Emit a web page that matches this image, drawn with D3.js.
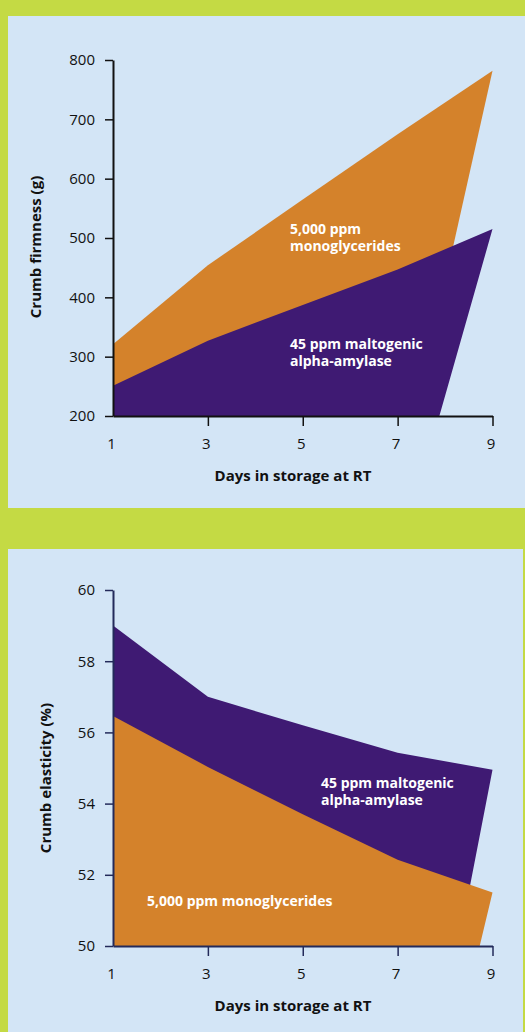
<!DOCTYPE html>
<html>
<head>
<meta charset="utf-8">
<script src="https://cdnjs.cloudflare.com/ajax/libs/d3/7.8.5/d3.min.js"></script>
<style>
  html, body { margin: 0; padding: 0; background: #c4da44; }
  svg { display: block; font-family: "Open Sans", "Noto Sans", sans-serif; }
</style>
</head>
<body>
<div id="chart"></div>
<script>
// days on the x axis
var days = [1, 3, 5, 7, 9];

// crumb firmness (g)
var firmnessMono = [321, 454, 565, 675, 782];
var firmnessAmylase = [251, 327, 387, 447, 515];
var firmnessMonoBaseEnd = 7.37;     // where the slanted right edge meets the x axis
var firmnessAmylaseBaseEnd = 7.88;
var firmnessTicks = [200, 300, 400, 500, 600, 700, 800];

// crumb elasticity (%)
var elasticityAmylase = [59.0, 57.0, 56.2, 55.43, 54.95];
var elasticityMono = [56.46, 55.03, 53.7, 52.42, 51.5];
var elasticityAmylaseBaseEnd = 8.28;
var elasticityMonoBaseEnd = 8.73;
var elasticityTicks = [50, 52, 54, 56, 58, 60];

var dayTicks = [1, 3, 5, 7, 9];

var orange = "#d4822b",
  purple = "#3f1a73",
  panelBlue = "#d3e5f6",
  green = "#c4da44";

var W = 525, H = 1032;

var svg = d3.select("#chart").append("svg")
  .attr("width", W)
  .attr("height", H);

svg.append("rect").attr("width", W).attr("height", H).attr("fill", green);

var drawPanel = function(opts) {
  var g = svg.append("g");

  g.append("rect")
    .attr("x", opts.panel[0]).attr("y", opts.panel[1])
    .attr("width", opts.panel[2]).attr("height", opts.panel[3])
    .attr("fill", panelBlue);

  var x = d3.scaleLinear().domain([1, 9]).range([113, 492.5]);
  var y = d3.scaleLinear().domain(opts.yDomain).range([opts.bottom, opts.top]);

  var line = d3.line();

  // build each layer polygon: top line, slanted edge down to base, back to day 1
  opts.layers.forEach(function(layer) {
    var pts = days.map(function(d, i) { return [x(d), y(layer.values[i])]; });
    pts.push([x(layer.baseEnd), y(opts.yDomain[0])]);
    pts.push([x(1), y(opts.yDomain[0])]);
    g.append("path")
      .attr("d", line(pts) + "Z")
      .attr("fill", layer.color);

    // one text per line so the lines stay apart
    layer.label.lines.forEach(function(s, i) {
      g.append("text")
        .attr("x", layer.label.x)
        .attr("y", layer.label.y + i * 16.5)
        .attr("fill", "#fff")
        .attr("font-weight", "bold")
        .attr("font-size", 14)
        .text(s);
    });
  });

  var yAxis = d3.axisLeft(y)
    .tickValues(opts.yTicks)
    .tickSize(8)
    .tickSizeOuter(0)
    .tickPadding(10);
  var ya = g.append("g")
    .attr("transform", "translate(113,0)")
    .call(yAxis);

  var xAxis = d3.axisBottom(x)
    .tickValues(dayTicks)
    .tickSize(10)
    .tickSizeOuter(0)
    .tickPadding(12);
  var xa = g.append("g")
    .attr("transform", "translate(0," + opts.bottom + ")")
    .call(xAxis);

  [ya, xa].forEach(function(a) {
    a.select(".domain").attr("stroke", opts.axisColor).attr("stroke-width", 2);
    a.selectAll(".tick line").attr("stroke", opts.axisColor).attr("stroke-width", 1.5);
    a.selectAll(".tick text")
      .attr("fill", "#111")
      .attr("font-size", 15)
      .attr("font-family", "Open Sans, sans-serif");
  });
  xa.selectAll(".tick").filter(function(d) { return d === 1; }).select("line").remove();
  xa.selectAll(".tick text").attr("dx", -2);

  g.append("text")
    .attr("x", 293)
    .attr("y", opts.bottom + 65)
    .attr("text-anchor", "middle")
    .attr("font-weight", "bold")
    .attr("font-size", 15)
    .attr("fill", "#111")
    .text("Days in storage at RT");

  g.append("text")
    .attr("transform", "translate(" + opts.yTitle.x + "," + opts.yTitle.y + ") rotate(-90)")
    .attr("text-anchor", "middle")
    .attr("font-weight", "bold")
    .attr("font-size", 15)
    .attr("fill", "#111")
    .text(opts.yTitle.text);
};

drawPanel({
  panel: [8, 16, 517, 492],
  yDomain: [200, 800],
  yTicks: firmnessTicks,
  top: 60,
  bottom: 416,
  axisColor: "#111",
  yTitle: { x: 41, y: 247, text: "Crumb firmness (g)" },
  layers: [
    { values: firmnessMono, baseEnd: firmnessMonoBaseEnd, color: orange,
      label: { x: 290, y: 234, lines: ["5,000 ppm", "monoglycerides"] } },
    { values: firmnessAmylase, baseEnd: firmnessAmylaseBaseEnd, color: purple,
      label: { x: 290, y: 349, lines: ["45 ppm maltogenic", "alpha-amylase"] } }
  ]
});

drawPanel({
  panel: [8, 549, 515, 483],
  yDomain: [50, 60],
  yTicks: elasticityTicks,
  top: 590,
  bottom: 946,
  axisColor: "#232a5a",
  yTitle: { x: 51, y: 778, text: "Crumb elasticity (%)" },
  layers: [
    { values: elasticityAmylase, baseEnd: elasticityAmylaseBaseEnd, color: purple,
      label: { x: 321, y: 788, lines: ["45 ppm maltogenic", "alpha-amylase"] } },
    { values: elasticityMono, baseEnd: elasticityMonoBaseEnd, color: orange,
      label: { x: 147, y: 906, lines: ["5,000 ppm monoglycerides"] } }
  ]
});
</script>
</body>
</html>
